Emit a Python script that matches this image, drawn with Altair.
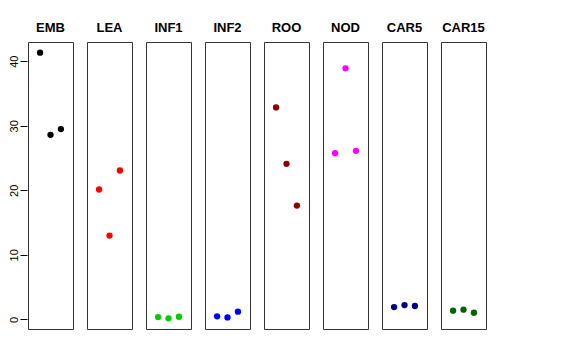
import altair as alt
import pandas as pd

tissues = ["EMB", "LEA", "INF1", "INF2", "ROO", "NOD", "CAR5", "CAR15"]
colors = ["#000000", "#FF0000", "#00CD00", "#0000FF", "#8B0000", "#FF00FF", "#000080", "#006400"]
replicate = [1, 2, 3]
values = {
    "EMB": [41.33, 28.60, 29.49],
    "LEA": [20.12, 12.98, 23.07],
    "INF1": [0.36, 0.16, 0.41],
    "INF2": [0.47, 0.31, 1.19],
    "ROO": [32.85, 24.10, 17.64],
    "NOD": [25.76, 38.90, 26.12],
    "CAR5": [1.91, 2.22, 2.07],
    "CAR15": [1.35, 1.50, 1.03],
}

rows = []
for t in tissues:
    for r, v in zip(replicate, values[t]):
        rows.append({"tissue": t, "rep": r, "value": v})
df = pd.DataFrame(rows)

font = "Liberation Sans"

chart = (
    alt.Chart(df)
    .mark_circle(size=40, opacity=1)
    .encode(
        x=alt.X("rep:Q", scale=alt.Scale(domain=[-0.16, 4.16], nice=False, zero=False), axis=None),
        y=alt.Y(
            "value:Q",
            scale=alt.Scale(domain=[-1.49, 42.98], nice=False, zero=False),
            axis=alt.Axis(
                title=None,
                values=[0, 10, 20, 30, 40],
                grid=False,
                domain=False,
                tickSize=7,
                tickColor="#000000",
                labelAngle=270,
                labelAlign="center",
                labelBaseline="bottom",
                labelPadding=1,
                labelFont=font,
                labelFontSize=11,
                labelColor="#000000",
            ),
        ),
        color=alt.Color("tissue:N", scale=alt.Scale(domain=tissues, range=colors), legend=None),
        column=alt.Column(
            "tissue:N",
            sort=tissues,
            title=None,
            spacing=12,
            header=alt.Header(
                labelFont=font,
                labelFontSize=13,
                labelFontWeight="bold",
                labelColor="#000000",
                labelPadding=6,
            ),
        ),
    )
    .properties(width=45, height=287)
    .configure_facet(spacing=12)
    .configure_view(stroke="#333333", strokeWidth=1)
    .properties(padding={"left": 0, "top": 14, "right": 5, "bottom": 5})
)

chart.save("out.html", embed_options={"renderer": "svg", "actions": False})
